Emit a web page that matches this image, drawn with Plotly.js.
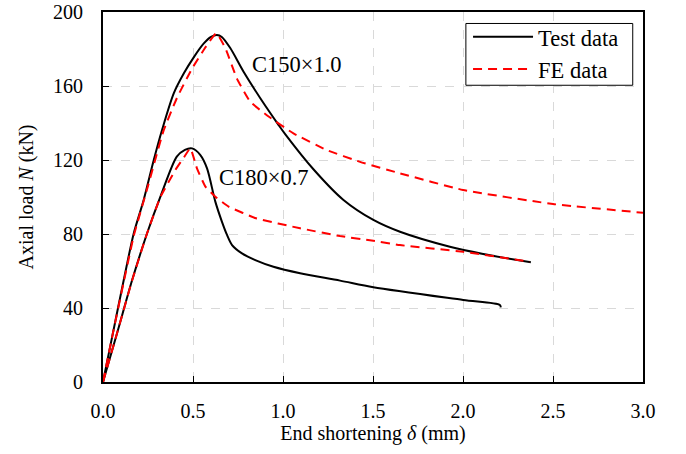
<!DOCTYPE html>
<html>
<head>
<meta charset="utf-8">
<script src="https://cdn.plot.ly/plotly-3.0.1.min.js"></script>
<style>html,body{margin:0;padding:0;background:#fff;}#chart{width:686px;height:454px;}</style>
</head>
<body>
<div id="chart"></div>
<script>
// C150x1.0 test data
const c150TestX = [0, 0.05, 0.115, 0.171, 0.226, 0.282, 0.328, 0.393, 0.45, 0.504, 0.56, 0.60, 0.633, 0.66, 0.707, 0.781, 0.874, 0.975, 1.012, 1.169, 1.336, 1.502, 1.65, 1.927, 2.112, 2.377];
const c150TestY = [0, 24, 55, 80.4, 98.4, 120, 136.2, 156, 167, 175.5, 183, 186.5, 187.6, 186.5, 180.5, 167.7, 153.4, 139, 134, 115, 98.4, 87.6, 81.2, 73.1, 69.2, 64.7];
// C180x0.7 test data
const c180TestX = [0, 0.08, 0.162, 0.245, 0.319, 0.41, 0.455, 0.495, 0.541, 0.578, 0.624, 0.661, 0.689, 0.717, 0.772, 0.846, 0.947, 1.095, 1.317, 1.502, 2.001, 2.205, 2.21];
const c180TestY = [0, 27, 55.1, 80.4, 100.2, 121.8, 125.5, 126.3, 122.7, 115.5, 97.5, 86.6, 79.5, 74, 69.5, 65.9, 62.3, 58.8, 54.8, 51.2, 44.3, 41.6, 40.3];
// C150x1.0 FE data
const c150FeX = [0, 0.05, 0.115, 0.171, 0.25, 0.337, 0.41, 0.495, 0.57, 0.63, 0.68, 0.744, 0.818, 0.92, 1.058, 1.243, 1.428, 1.65, 2.0, 2.5, 3.0];
const c150FeY = [0, 24, 54, 79, 106, 136, 153.4, 169.5, 181, 188.5, 180.4, 164, 151.5, 143.5, 134.4, 125.4, 119, 112.8, 103.8, 96.2, 91.5];
// C180x0.7 FE data
const c180FeX = [0, 0.08, 0.162, 0.245, 0.319, 0.402, 0.45, 0.485, 0.522, 0.569, 0.624, 0.698, 0.85, 1.095, 1.317, 1.502, 1.65, 2.001, 2.371];
const c180FeY = [0, 27, 55, 80.4, 100, 114.6, 121.5, 126.3, 115.5, 105.6, 100.2, 94.8, 88.5, 83.1, 78.9, 76.3, 74, 70.4, 65];

const specimenLabels = ['C150×1.0', 'C180×0.7'];
const labelX = [0.83, 0.646];
const labelY = [171.5, 110.5];

const xTicks = [0, 0.5, 1, 1.5, 2, 2.5, 3];
const xTickText = ['0.0', '0.5', '1.0', '1.5', '2.0', '2.5', '3.0'];
const yTicks = [0, 40, 80, 120, 160, 200];

const FONT = 'Liberation Serif';
const testLine = {color: '#000000', width: 2, shape: 'spline', smoothing: 0.8};
const feLine = {color: '#ff0000', width: 2, dash: '9px,6px', shape: 'spline', smoothing: 0.4};

const traces = [
  {x: c150TestX, y: c150TestY, type: 'scatter', mode: 'lines', name: 'Test data', legendgroup: 'test', line: testLine},
  {x: c180TestX, y: c180TestY, type: 'scatter', mode: 'lines', name: 'Test data', legendgroup: 'test', showlegend: false, line: testLine},
  {x: c150FeX, y: c150FeY, type: 'scatter', mode: 'lines', name: 'FE data', legendgroup: 'fe', line: feLine},
  {x: c180FeX, y: c180FeY, type: 'scatter', mode: 'lines', name: 'FE data', legendgroup: 'fe', showlegend: false, line: feLine}
];

const layout = {
  width: 686, height: 454,
  margin: {l: 102.5, r: 42.5, t: 11.7, b: 72.3},
  paper_bgcolor: '#ffffff', plot_bgcolor: '#ffffff',
  font: {family: FONT, size: 20, color: '#000000'},
  showlegend: true,
  legend: {
    x: 0.676, y: 0.99, xanchor: 'left', yanchor: 'top',
    bgcolor: 'rgba(0,0,0,0)', borderwidth: 0,
    font: {family: FONT, size: 22.5, color: '#000000'},
    tracegroupgap: 0, itemwidth: 60
  },
  shapes: [
    {type: 'rect', xref: 'paper', yref: 'paper', x0: 0.672, x1: 0.981, y0: 0.802, y1: 0.969,
     line: {color: '#000000', width: 1}, fillcolor: '#ffffff', layer: 'above'}
  ],
  xaxis: {
    range: [0, 3], tickvals: xTicks, ticktext: xTickText,
    ticks: 'inside', ticklen: 6, tickwidth: 1, tickcolor: '#000',
    showline: true, linecolor: '#000', linewidth: 2, mirror: true,
    showgrid: true, gridcolor: '#d9d9d9', griddash: 'dash', gridwidth: 1,
    zeroline: false, automargin: false, ticklabelstandoff: 10,
    tickfont: {family: FONT, size: 20},
    title: {text: 'End shortening <i>δ</i> (mm)', font: {family: FONT, size: 20}, standoff: 2}
  },
  yaxis: {
    range: [0, 200], tickvals: yTicks,
    ticks: 'inside', ticklen: 6, tickwidth: 1, tickcolor: '#000',
    showline: true, linecolor: '#000', linewidth: 2, mirror: true,
    showgrid: true, gridcolor: '#d9d9d9', griddash: 'dash', gridwidth: 1,
    zeroline: false, automargin: false, ticklabelstandoff: 14,
    tickfont: {family: FONT, size: 20},
    title: {text: 'Axial load <i>N</i> (kN)', font: {family: FONT, size: 20}, standoff: 14}
  },
  annotations: specimenLabels.map((t, i) => ({
    x: labelX[i], y: labelY[i], xref: 'x', yref: 'y', text: t, showarrow: false,
    xanchor: 'left', yanchor: 'middle', xshift: -2, font: {family: FONT, size: 22.5, color: '#000'}
  }))
};

Plotly.newPlot('chart', traces, layout, {staticPlot: true, displayModeBar: false});
</script>
</body>
</html>
